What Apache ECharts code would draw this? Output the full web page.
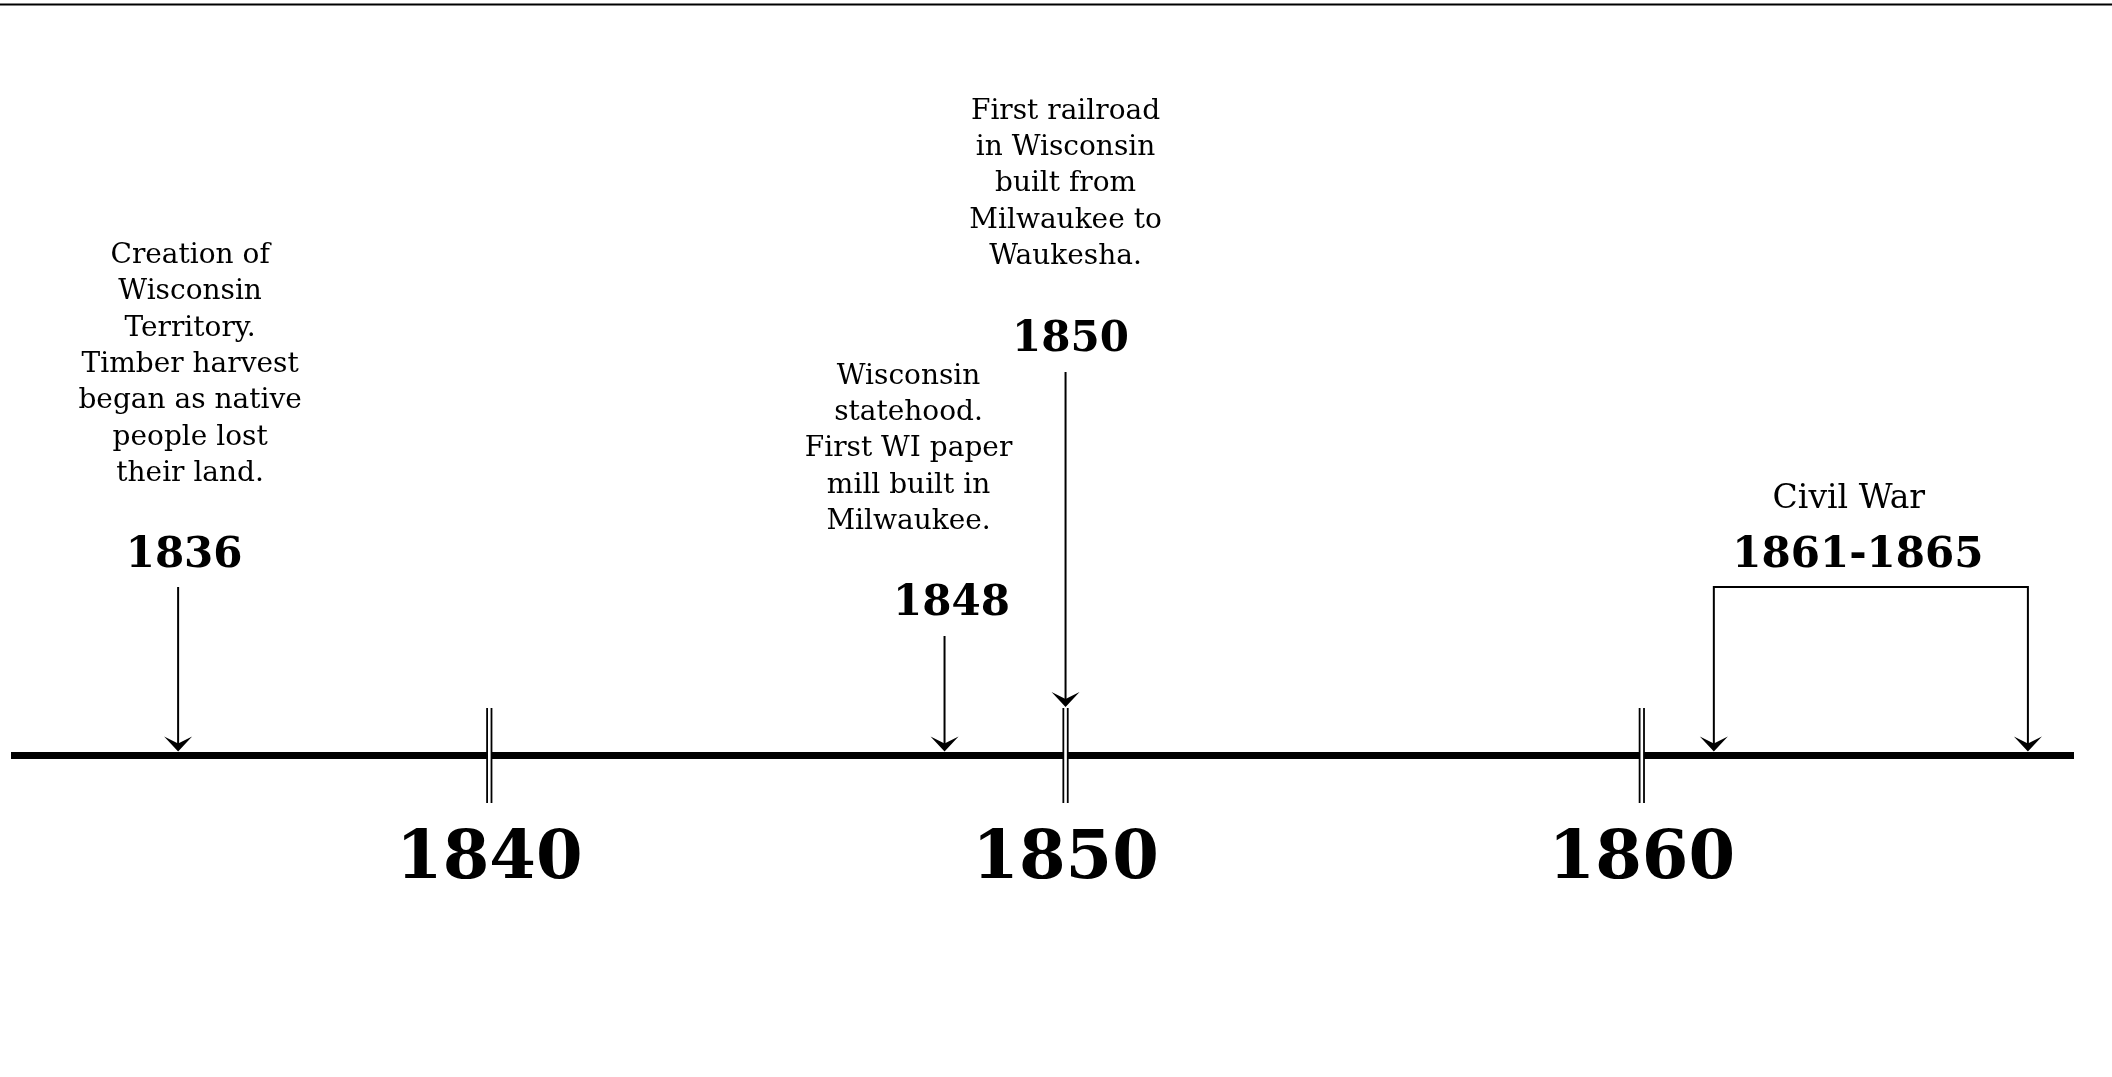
<!DOCTYPE html>
<html>
<head>
<meta charset="utf-8">
<script src="https://cdn.jsdelivr.net/npm/echarts@6/dist/echarts.min.js"></script>
<style>
  html, body { margin: 0; padding: 0; background: #fff; }
  #chart { width: 2112px; height: 1077px; }
</style>
</head>
<body>
<div id="chart"></div>
<script>
// ---- data ----
const tickYears = [1840, 1850, 1860];
const eventYearLabels = ['1836', '1848', '1850', '1861-1865'];
const eventTexts = [
  'Creation of\nWisconsin\nTerritory.\nTimber harvest\nbegan as native\npeople lost\ntheir land.',
  'Wisconsin\nstatehood.\nFirst WI paper\nmill built in\nMilwaukee.',
  'First railroad\nin Wisconsin\nbuilt from\nMilwaukee to\nWaukesha.',
  'Civil War'
];
// positions of the arrows along the drawn year scale
const eventStart = [1834.6, 1847.9, 1850, 1861.25];
const eventEnd   = [1834.6, 1847.9, 1850, 1866.7];
const axisMin = 1831.7;
const axisMax = 1867.5;

// ---- layout (pixels, relative to the axis line) ----
const layout = [
  { arrowTop: 168, tip: 3.5, label: 201, labelDx: 6,   text: 281, textDx: 12,  textSize: 28 },
  { arrowTop: 119, tip: 3.5, label: 153, labelDx: 7,   text: 233, textDx: -36, textSize: 28 },
  { arrowTop: 383, tip: 48,  label: 417, labelDx: 5,   text: 498, textDx: 0,   textSize: 28 },
  { arrowTop: 168, tip: 3.5, label: 201, labelDx: -13, text: 256, textDx: -22, textSize: 33 }
];

const FONT = '"DejaVu Serif", "Liberation Serif", serif';

function arrowHead(x, ty) {
  return {
    type: 'polygon',
    shape: { points: [[x, ty], [x - 14, ty - 15], [x, ty - 8], [x + 14, ty - 15]] },
    style: { fill: '#000' }
  };
}

const eventData = eventStart.map((s, i) => [s, 0, eventEnd[i], i]);

const chart = echarts.init(document.getElementById('chart'), null, { renderer: 'canvas' });
chart.setOption({
  backgroundColor: '#fff',
  animation: false,
  graphic: [{
    type: 'line',
    shape: { x1: 0, y1: 4.5, x2: 2112, y2: 4.5 },
    style: { stroke: '#000', lineWidth: 2 }
  }],
  grid: { left: 11, right: 38, top: 100, bottom: 322, containLabel: false },
  xAxis: {
    type: 'value',
    min: axisMin,
    max: axisMax,
    axisLine: { show: true, lineStyle: { color: '#000', width: 7, cap: 'butt' } },
    axisTick: { show: false },
    splitLine: { show: false },
    axisLabel: {
      customValues: tickYears,
      formatter: v => String(Math.round(v)),
      fontFamily: FONT,
      fontWeight: 'bold',
      fontSize: 67,
      lineHeight: 67,
      color: '#000',
      margin: 72
    }
  },
  yAxis: { type: 'value', min: 0, max: 1, show: false },
  series: [
    {
      type: 'custom',
      clip: false,
      silent: true,
      data: tickYears.map(y => [y, 0]),
      encode: { x: 0, y: 1 },
      renderItem: function (params, api) {
        const p = api.coord([api.value(0), 0]);
        const x = p[0], ay = p[1];
        return {
          type: 'group',
          children: [
            { type: 'rect', shape: { x: x - 2.2, y: ay - 47, width: 4.4, height: 95 }, style: { fill: '#fff' } },
            { type: 'line', shape: { x1: x - 2.2, y1: ay - 47, x2: x - 2.2, y2: ay + 48 }, style: { stroke: '#000', lineWidth: 1.8 } },
            { type: 'line', shape: { x1: x + 2.2, y1: ay - 47, x2: x + 2.2, y2: ay + 48 }, style: { stroke: '#000', lineWidth: 1.8 } }
          ]
        };
      }
    },
    {
      type: 'custom',
      clip: false,
      silent: true,
      data: eventData,
      encode: { x: [0, 2], y: 1 },
      renderItem: function (params, api) {
        const i = api.value(3);
        const L = layout[i];
        const p0 = api.coord([api.value(0), 0]);
        const p1 = api.coord([api.value(2), 0]);
        const x0 = p0[0], x1 = p1[0], ay = p0[1];
        const top = ay - L.arrowTop;
        const tipY = ay - L.tip;
        const children = [];
        if (Math.abs(x1 - x0) < 1) {
          children.push({ type: 'line', shape: { x1: x0, y1: top, x2: x0, y2: tipY - 7 }, style: { stroke: '#000', lineWidth: 2 } });
          children.push(arrowHead(x0, tipY));
        } else {
          children.push({
            type: 'polyline',
            shape: { points: [[x0, tipY - 7], [x0, top], [x1, top], [x1, tipY - 7]] },
            style: { stroke: '#000', lineWidth: 2, fill: null }
          });
          children.push(arrowHead(x0, tipY));
          children.push(arrowHead(x1, tipY));
        }
        const cx = (x0 + x1) / 2;
        children.push({
          type: 'text',
          style: {
            text: eventYearLabels[i],
            x: cx + L.labelDx,
            y: ay - L.label + 2,
            align: 'center',
            verticalAlign: 'middle',
            fontFamily: FONT,
            fontWeight: 'bold',
            fontSize: 42,
            fill: '#000'
          }
        });
        children.push({
          type: 'text',
          style: {
            text: eventTexts[i],
            x: cx + L.textDx,
            y: ay - L.text + 18.2,
            align: 'center',
            verticalAlign: 'bottom',
            fontFamily: FONT,
            fontSize: L.textSize,
            lineHeight: 36.4,
            fill: '#000'
          }
        });
        return { type: 'group', children: children };
      }
    }
  ]
});
</script>
</body>
</html>
